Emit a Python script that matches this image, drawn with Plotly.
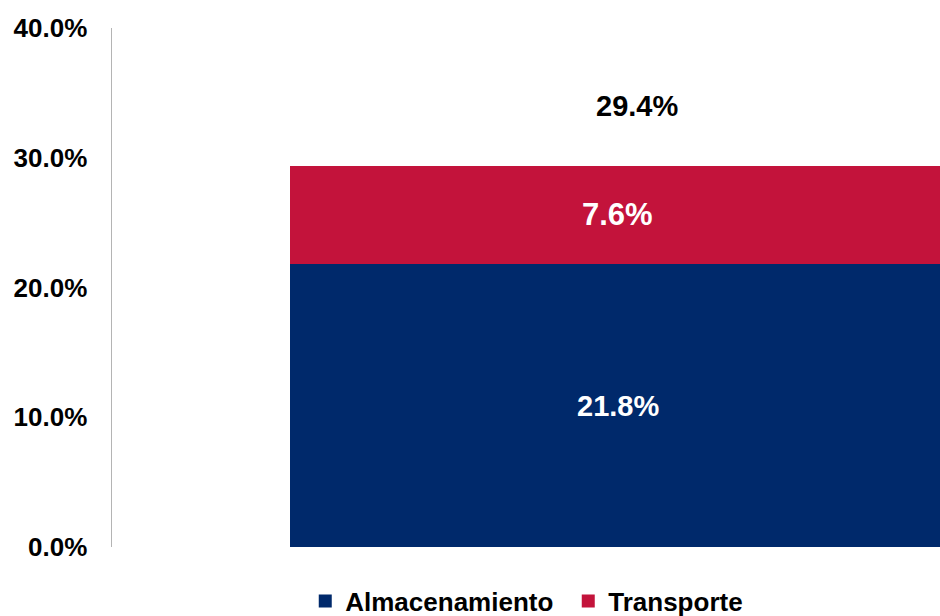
import plotly.graph_objects as go

# Data
series_names = ["Almacenamiento", "Transporte"]
series_values = [21.8, 7.6]
series_colors = ["#00296B", "#C3133B"]
label_sizes = [29, 31]
y_tick_values = [0, 10, 20, 30, 40]
y_tick_labels = ["0.0%", "10.0%", "20.0%", "30.0%", "40.0%"]

bar_x = 0.65
bar_w = 0.87
label_x = 0.611
total_x = 0.634

FONT = "Liberation Sans, Arial"

fig = go.Figure()
for name, val, col in zip(series_names, series_values, series_colors):
    fig.add_trace(go.Bar(
        x=[bar_x], y=[val], width=[bar_w], name=name,
        marker=dict(color=col, line=dict(width=0)),
        hoverinfo="skip", showlegend=False,
    ))
# legend entries (square markers)
for name, col in zip(series_names, series_colors):
    fig.add_trace(go.Scatter(
        x=[None], y=[None], mode="markers", name=name,
        marker=dict(symbol="square", size=13, color=col),
        showlegend=True,
    ))

# segment labels
base = 0
annotations = []
for val, fs in zip(series_values, label_sizes):
    annotations.append(dict(
        x=label_x, y=base + val / 2, xref="x", yref="y",
        text=f"{val:.1f}%", showarrow=False,
        font=dict(family=FONT, size=fs, color="white", weight="bold"),
    ))
    base += val
total = sum(series_values)
annotations.append(dict(
    x=total_x, y=total, xref="x", yref="y", yshift=60,
    text=f"{total:.1f}%", showarrow=False,
    font=dict(family=FONT, size=29, color="black", weight="bold"),
))

fig.update_layout(
    width=940, height=616,
    margin=dict(l=112, r=0, t=28, b=69, autoexpand=False),
    paper_bgcolor="white", plot_bgcolor="white",
    barmode="stack",
    showlegend=True,
    legend=dict(
        orientation="h", x=0.2334, xanchor="left", y=-0.104, yanchor="middle",
        font=dict(family=FONT, size=26, color="black", weight="bold"),
        entrywidth=218,
        traceorder="normal",
        itemclick=False, itemdoubleclick=False,
    ),
    annotations=annotations,
    xaxis=dict(range=[0, 1], showticklabels=False, showgrid=False, zeroline=False,
               showline=False, fixedrange=True, automargin=False),
    yaxis=dict(range=[0, 40], tickvals=y_tick_values, ticktext=y_tick_labels,
               showgrid=False, zeroline=False, showline=True, linecolor="#B4B4B4",
               linewidth=1.5, ticks="", ticklabelstandoff=18, automargin=False,
               fixedrange=True,
               tickfont=dict(family=FONT, size=26, color="black", weight="bold")),
)

fig.write_html(
    "out.html",
    config={"displayModeBar": False, "staticPlot": True},
    post_script="document.body.style.margin='0';document.body.style.overflow='hidden';",
)
